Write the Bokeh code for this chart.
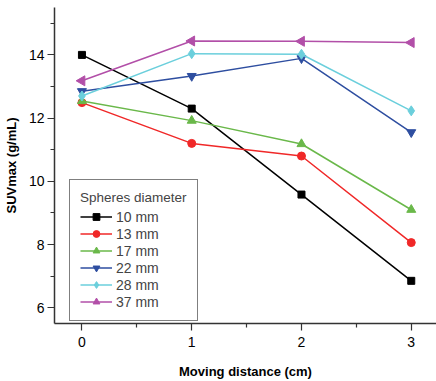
import math
from bokeh.plotting import figure
from bokeh.models import Range1d, FixedTicker, Legend, LegendItem
from bokeh.embed import file_html
from bokeh.resources import INLINE

distance = [0, 1, 2, 3]
labels = ["10 mm", "13 mm", "17 mm", "22 mm", "28 mm", "37 mm"]
suv_10 = [14.00, 12.30, 9.58, 6.85]
suv_13 = [12.49, 11.20, 10.80, 8.06]
suv_17 = [12.54, 11.92, 11.18, 9.10]
suv_22 = [12.85, 13.33, 13.89, 11.55]
suv_28 = [12.70, 14.04, 14.02, 12.23]
suv_37 = [13.18, 14.44, 14.43, 14.39]
series = [suv_10, suv_13, suv_17, suv_22, suv_28, suv_37]
x_ticks = [0, 1, 2, 3]
y_ticks = [6, 8, 10, 12, 14]

colors = ["#000000", "#f02828", "#6ab84a", "#2e4ea0", "#6bcfdc", "#b24fa8"]
markers = ["square", "circle", "triangle", "inverted_triangle", "diamond", "triangle"]
angles = [0, 0, 0, 0, 0, math.pi / 2]
sizes = [7, 8, 9, 9, 10, 10]

p = figure(width=436, height=381, output_backend="svg", toolbar_location=None,
           x_range=Range1d(-0.25, 3.23), y_range=Range1d(5.5, 15.5),
           min_border_left=0, min_border_right=0, min_border_top=7, min_border_bottom=0)
p.outline_line_color = None
p.xgrid.visible = False
p.ygrid.visible = False
p.background_fill_color = "white"

items = []
for lab, ys, c, m, a, s in zip(labels, series, colors, markers, angles, sizes):
    r1 = p.line(distance, ys, line_color=c, line_width=1.5)
    r2 = p.scatter(distance, ys, marker=m, size=s, angle=a, fill_color=c, line_color=c)
    items.append(LegendItem(label=lab, renderers=[r1, r2]))

legend = Legend(items=items, location=(15, 2), title="Spheres diameter",
                title_text_font="Liberation Sans", title_text_font_size="13.5px",
                title_text_font_style="normal", title_standoff=3,
                label_text_font="Liberation Sans", label_text_font_size="14px",
                label_height=17, glyph_height=17, glyph_width=32, label_standoff=4,
                spacing=0, padding=10, margin=0,
                border_line_color="black", border_line_width=1,
                background_fill_alpha=1)
p.add_layout(legend)

for ax in (p.xaxis, p.yaxis):
    ax.axis_line_color = "#333333"
    ax.axis_line_width = 1.5
    ax.major_tick_line_color = "#333333"
    ax.minor_tick_line_color = "#333333"
    ax.major_tick_line_width = 1.2
    ax.minor_tick_line_width = 1.2
    ax.major_tick_out = 7
    ax.major_tick_in = 0
    ax.minor_tick_out = 4
    ax.minor_tick_in = 0
    ax.major_label_text_font = "Liberation Sans"
    ax.major_label_text_font_size = "14px"
    ax.major_label_text_color = "black"
    ax.axis_label_text_font = "Liberation Sans"
    ax.axis_label_text_font_size = "13px"
    ax.axis_label_text_font_style = "bold"
    ax.axis_label_text_color = "black"

p.xaxis.ticker = FixedTicker(ticks=x_ticks, minor_ticks=[0.5, 1.5, 2.5])
p.yaxis.ticker = FixedTicker(ticks=y_ticks, minor_ticks=[7, 9, 11, 13, 15])
p.xaxis.major_label_standoff = 6
p.yaxis.major_label_standoff = 3
p.xaxis.axis_label = "Moving distance (cm)"
p.yaxis.axis_label = "SUVmax (g/mL)"
p.xaxis.axis_label_standoff = 14
p.yaxis.axis_label_standoff = 7

open("out.html", "w").write(file_html(p, INLINE))
